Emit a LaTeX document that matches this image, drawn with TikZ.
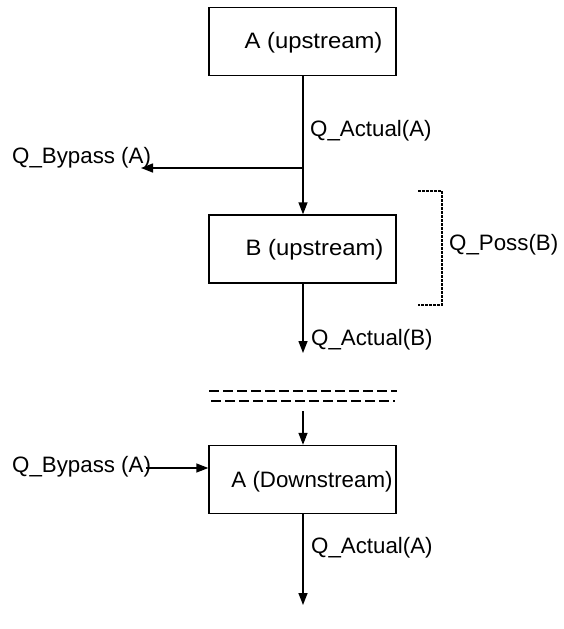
\documentclass[tikz,border=0pt]{standalone}
\usepackage{fontspec}
\setmainfont{Liberation Sans}
\usetikzlibrary{arrows.meta}
\begin{document}
\begin{tikzpicture}[x=1pt,y=-1pt,
  lbl/.style={inner sep=0pt, font=\fontsize{22.3}{25}\selectfont},
  boxtxt/.style={inner sep=0pt, font=\fontsize{22.3}{25}\selectfont, xscale=1.07},
  stage/.style={draw, line width=1.4pt, minimum width=187pt, minimum height=68pt, inner sep=0pt},
  flow/.style={line width=1.4pt, -{Triangle[length=12pt,width=9pt]}},
  plain/.style={line width=1.4pt},
  bracket/.style={line width=1.2pt, dash pattern=on 3pt off 1pt},
  split/.style={line width=1.2pt, dash pattern=on 10pt off 4pt}]
\useasboundingbox (0,0) rectangle (563,629);

% process boxes
\node[stage] (Aup) at (302.5,41.5) {};
\node[boxtxt] at (313.5,43) {A (upstream)};
\node[stage] (Bup) at (302.5,249) {};
\node[boxtxt] at (314.5,250) {B (upstream)};
\node[stage] (Adn) at (302.5,479.5) {};
\node[lbl] at (312,482) {A (Downstream)};

% upstream flow and bypass split
\coordinate (junc) at (303,168);
\draw[plain] (Aup.south -| junc) -- (junc);
\draw[flow] (junc) -- (Bup.north -| junc);
\node[lbl, anchor=west] (qa1) at (310,131) {Q\_Actual(A)};
\node[lbl, anchor=west] (qb1) at (12,158) {Q\_Bypass (A)};
\coordinate (byend) at (141,168);
\draw[flow] (junc) -- (byend);

% possible flow bracket
\coordinate (br1) at (418,191);
\coordinate (br2) at (442,191);
\coordinate (br3) at (442,305);
\coordinate (br4) at (418,305);
\draw[bracket] (br1) -- (br2) -- (br3) -- (br4);
\node[lbl, anchor=west] (qp) at (449,245) {Q\_Poss(B)};

% outflow of B
\coordinate (bout) at (303,353);
\draw[flow] (Bup.south -| bout) -- (bout);
\node[lbl, anchor=west] (qab) at (311,340) {Q\_Actual(B)};

% break in the river
\coordinate (s1a) at (209,391);
\coordinate (s1b) at (397,391);
\coordinate (s2a) at (209,401);
\coordinate (s2b) at (395,401);
\draw[split] (s1a) -- (s1b);
\draw[split, dash phase=12pt] (s2a) -- (s2b);

% downstream inflow, bypass return and outflow
\coordinate (din) at (303,411);
\draw[flow] (din) -- (Adn.north -| din);
\node[lbl, anchor=west] (qb2) at (12,467) {Q\_Bypass (A)};
\coordinate (bystart) at (146,468);
\draw[flow] (bystart) -- (Adn.west |- bystart);
\coordinate (dout) at (303,605);
\draw[flow] (Adn.south -| dout) -- (dout);
\node[lbl, anchor=west] (qa2) at (311,548) {Q\_Actual(A)};
\end{tikzpicture}
\end{document}
